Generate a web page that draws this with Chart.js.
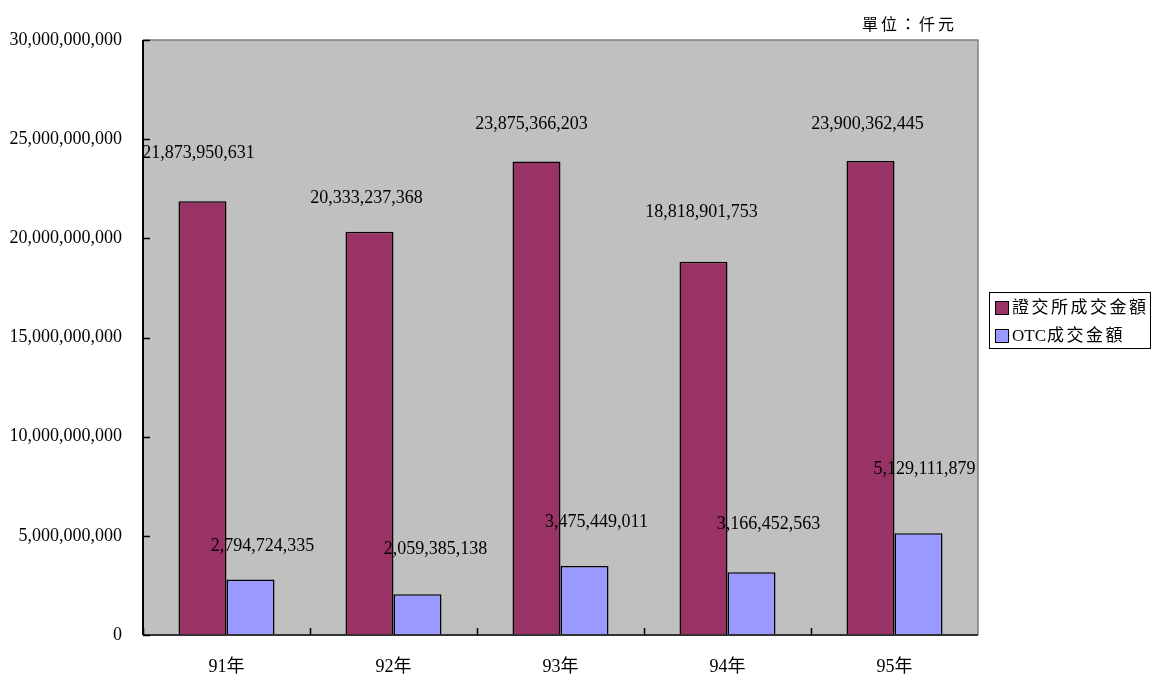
<!DOCTYPE html>
<html>
<head>
<meta charset="utf-8">
<script src="https://cdn.jsdelivr.net/npm/chart.js@4.4.0/dist/chart.umd.min.js"></script>
<style>
  html, body { margin: 0; padding: 0; background: #fff; }
  #wrap { position: relative; width: 1151px; height: 674px; }
</style>
</head>
<body>
<div id="wrap"><canvas id="c" width="1151" height="674"></canvas></div>
<script>
// 成交金額 (單位：仟元)
const years = ['91年', '92年', '93年', '94年', '95年'];
const twseValues = [21873950631, 20333237368, 23875366203, 18818901753, 23900362445];
const otcValues = [2794724335, 2059385138, 3475449011, 3166452563, 5129111879];
const seriesNames = ['證交所成交金額', 'OTC成交金額'];
const yMax = 30000000000;
const yStep = 5000000000;
const unitText = '單位：仟元';

// where each value label sits relative to the top-centre of its bar
const twseLabelShift = [[-4, -48], [-3, -33], [-5, -37], [-2, -49], [-3, -37]];
const otcLabelShift = [[12, -33], [18, -45], [12, -44], [17, -48], [6, -64]];

const SERIF = '"Liberation Serif", "Times New Roman", "Noto Sans CJK TC", serif';
const MING = '"Liberation Serif", "Noto Sans CJK TC", serif';
const colors = ['#993366', '#9999FF'];
const fmtNum = v => Number(v).toLocaleString('en-US');

// draw latin part tight, CJK part with a little tracking
function spacedText(ctx, text, x, y, gap) {
  const k = text.search(/[^\x00-\x7f]/);
  const head = k < 0 ? text : text.slice(0, k);
  const tail = k < 0 ? '' : text.slice(k);
  if (head) { ctx.fillText(head, x, y); x += ctx.measureText(head).width + 1; }
  for (const ch of tail) {
    ctx.fillText(ch, x, y);
    x += ctx.measureText(ch).width + gap;
  }
}

const frame = {
  id: 'frame',
  beforeDatasetsDraw(chart) {
    const { ctx, chartArea: a } = chart;
    ctx.save();
    ctx.fillStyle = '#C0C0C0';
    ctx.fillRect(a.left, a.top, a.right - a.left, a.bottom - a.top);
    ctx.restore();
  },
  afterDatasetsDraw(chart) {
    const { ctx, chartArea: a, scales } = chart;
    ctx.save();
    // plot border (top / right)
    ctx.strokeStyle = '#808080';
    ctx.lineWidth = 1.5;
    ctx.beginPath();
    ctx.moveTo(a.left, a.top); ctx.lineTo(a.right, a.top); ctx.lineTo(a.right, a.bottom);
    ctx.stroke();
    // axes
    ctx.strokeStyle = '#000';
    ctx.lineWidth = 2;
    ctx.beginPath();
    ctx.moveTo(a.left, a.top); ctx.lineTo(a.left, a.bottom);
    ctx.stroke();
    ctx.strokeStyle = '#333';
    ctx.beginPath();
    ctx.moveTo(a.left, a.bottom); ctx.lineTo(a.right, a.bottom);
    ctx.stroke();
    // inner tick marks
    ctx.strokeStyle = '#000';
    ctx.lineWidth = 1.5;
    ctx.beginPath();
    for (let v = 0; v <= yMax; v += yStep) {
      const y = Math.round(scales.y.getPixelForValue(v)) + 0.5;
      ctx.moveTo(a.left, y); ctx.lineTo(a.left + 7, y);
    }
    const cw = (a.right - a.left) / years.length;
    for (let i = 0; i < years.length; i++) {
      const x = Math.round(scales.x.getPixelForValue(i) - cw / 2) + 0.5;
      ctx.moveTo(x, a.bottom); ctx.lineTo(x, a.bottom - 7);
    }
    ctx.stroke();

    // value labels
    ctx.fillStyle = '#000';
    ctx.font = '18px ' + SERIF;
    ctx.textAlign = 'center';
    ctx.textBaseline = 'middle';
    [twseLabelShift, otcLabelShift].forEach((shift, di) => {
      const meta = chart.getDatasetMeta(di);
      const vals = chart.data.datasets[di].data;
      meta.data.forEach((bar, i) => {
        ctx.fillText(fmtNum(vals[i]), bar.x + shift[i][0], bar.y + shift[i][1]);
      });
    });

    // legend
    ctx.strokeStyle = '#000';
    ctx.lineWidth = 1;
    ctx.strokeRect(989.5, 292.5, 161, 56);
    ctx.textAlign = 'left';
    ctx.font = '17px ' + MING;
    chart.data.datasets.forEach((ds, i) => {
      const cy = 308 + i * 28;
      ctx.fillStyle = ds.backgroundColor;
      ctx.fillRect(995.5, cy - 6.5, 13, 13);
      ctx.strokeRect(995.5, cy - 6.5, 13, 13);
      ctx.fillStyle = '#000';
      spacedText(ctx, ds.label, 1012, cy + 1, 2.5);
    });

    // unit note
    ctx.font = '16px "Noto Sans CJK TC", serif';
    spacedText(ctx, unitText, 862, 24, 3);
    ctx.restore();
  }
};

new Chart(document.getElementById('c'), {
  type: 'bar',
  data: {
    labels: years,
    datasets: [
      { label: seriesNames[0], data: twseValues, backgroundColor: colors[0], borderColor: '#000', borderWidth: 1.5 },
      { label: seriesNames[1], data: otcValues, backgroundColor: colors[1], borderColor: '#000', borderWidth: 1.5 }
    ]
  },
  options: {
    responsive: false,
    animation: false,
    devicePixelRatio: 1,
    categoryPercentage: 0.575,
    barPercentage: 1,
    layout: { padding: { top: 40, right: 173, left: 0, bottom: 0 } },
    plugins: { legend: { display: false }, tooltip: { enabled: false } },
    scales: {
      x: {
        grid: { display: false, drawTicks: false },
        border: { display: false },
        ticks: { color: '#000', font: { family: MING, size: 18 }, padding: 21 },
        afterFit: s => { s.height = 39; }
      },
      y: {
        min: 0, max: yMax,
        grid: { display: false, drawTicks: false },
        border: { display: false },
        ticks: { stepSize: yStep, color: '#000', font: { family: SERIF, size: 18 }, padding: 21, callback: v => fmtNum(v) },
        afterFit: s => { s.width = 143; }
      }
    }
  },
  plugins: [frame]
});
</script>
</body>
</html>
